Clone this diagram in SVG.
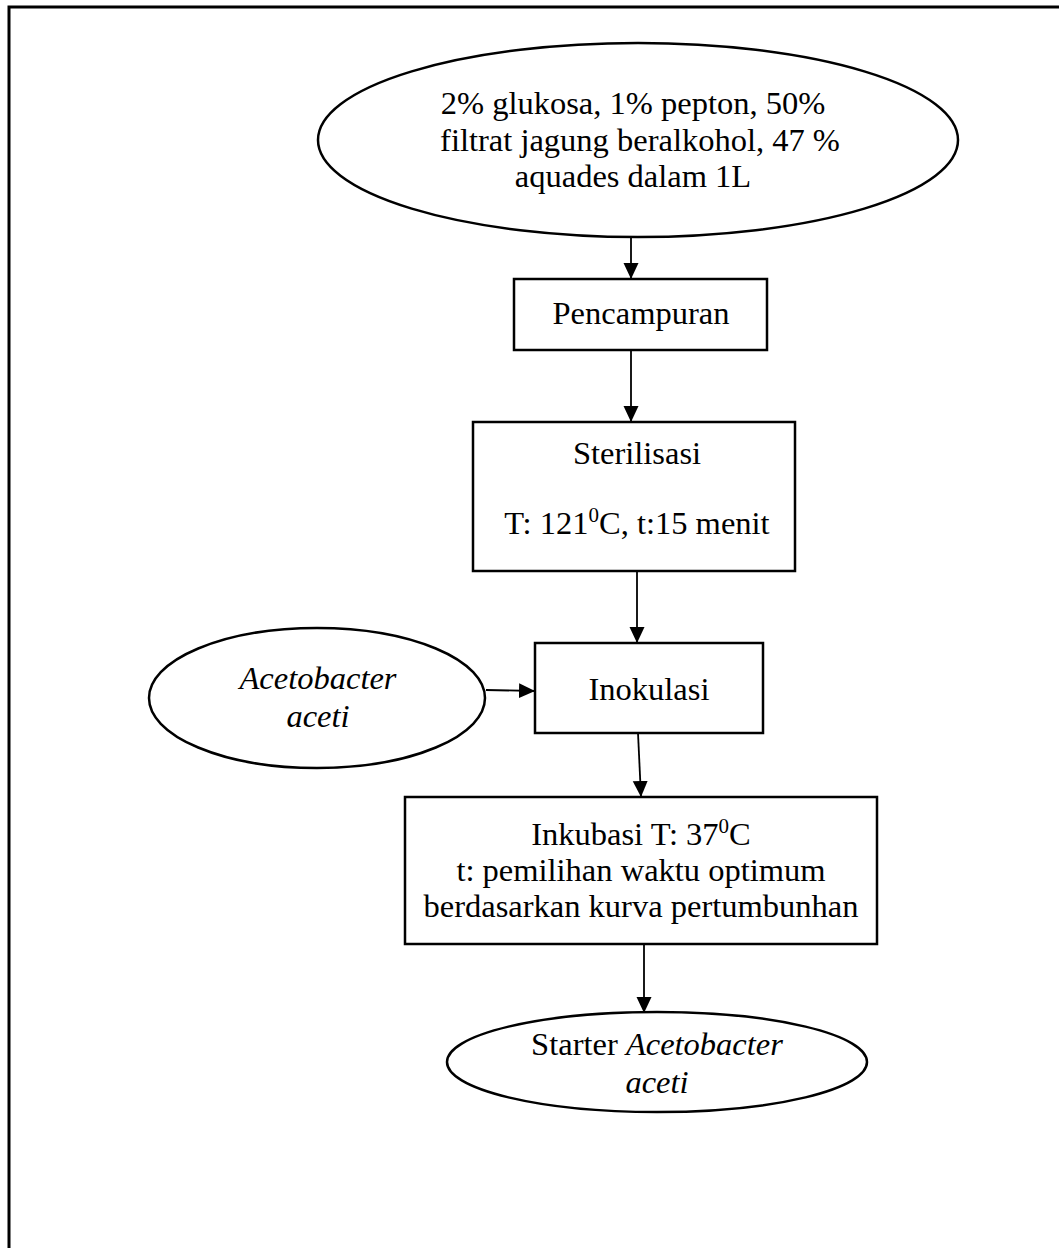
<svg xmlns="http://www.w3.org/2000/svg" width="1059" height="1248" viewBox="0 0 1059 1248">
<defs>
<style>
.s{fill:#fff;stroke:#000;stroke-width:2.5}
.t{font-family:"Liberation Serif","Times New Roman",serif;font-size:32.5px;fill:#000;text-anchor:middle}
.i{font-style:italic}
.c{stroke:#000;stroke-width:1.8;fill:none;marker-end:url(#ah)}
</style>
<marker id="ah" markerUnits="userSpaceOnUse" markerWidth="17" markerHeight="17" refX="16" refY="8.5" orient="auto">
<path d="M0,1 L16,8.5 L0,16 Z" fill="#000"/>
</marker>
</defs>
<rect x="9" y="7" width="1070" height="1270" fill="#fff" stroke="#000" stroke-width="3"/>
<g id="connectors">
<line class="c" x1="631" y1="237" x2="631" y2="279"/>
<line class="c" x1="631" y1="350" x2="631" y2="422"/>
<line class="c" x1="637" y1="571" x2="637" y2="643"/>
<line class="c" x1="486" y1="690" x2="535" y2="691"/>
<line class="c" x1="638" y1="733" x2="641" y2="797"/>
<line class="c" x1="644" y1="944" x2="644" y2="1013"/>
</g>
<g id="bahan">
<ellipse class="s" cx="638" cy="140" rx="320" ry="97"/>
<text class="t" x="633" y="114">2% glukosa, 1% pepton, 50%</text>
<text class="t" x="640" y="151">filtrat jagung beralkohol, 47 %</text>
<text class="t" x="633" y="187">aquades dalam 1L</text>
</g>
<g id="pencampuran">
<rect class="s" x="514" y="279" width="253" height="71"/>
<text class="t" x="641" y="324">Pencampuran</text>
</g>
<g id="sterilisasi">
<rect class="s" x="473" y="422" width="322" height="149"/>
<text class="t" x="637" y="464">Sterilisasi</text>
<text class="t" x="637" y="534">T: 121<tspan font-size="21" dy="-12">0</tspan><tspan dy="12">C, t:15 menit</tspan></text>
</g>
<g id="acetobacter">
<ellipse class="s" cx="317" cy="698" rx="168" ry="70"/>
<text class="t i" x="318" y="689">Acetobacter</text>
<text class="t i" x="318" y="727">aceti</text>
</g>
<g id="inokulasi">
<rect class="s" x="535" y="643" width="228" height="90"/>
<text class="t" x="649" y="700">Inokulasi</text>
</g>
<g id="inkubasi">
<rect class="s" x="405" y="797" width="472" height="147"/>
<text class="t" x="641" y="845">Inkubasi T: 37<tspan font-size="21" dy="-12">0</tspan><tspan dy="12">C</tspan></text>
<text class="t" x="641" y="881">t: pemilihan waktu optimum</text>
<text class="t" x="641" y="917">berdasarkan kurva pertumbunhan</text>
</g>
<g id="starter">
<ellipse class="s" cx="657" cy="1062" rx="210" ry="50"/>
<text class="t" x="657" y="1055">Starter <tspan class="i">Acetobacter</tspan></text>
<text class="t i" x="657" y="1093">aceti</text>
</g>
</svg>
